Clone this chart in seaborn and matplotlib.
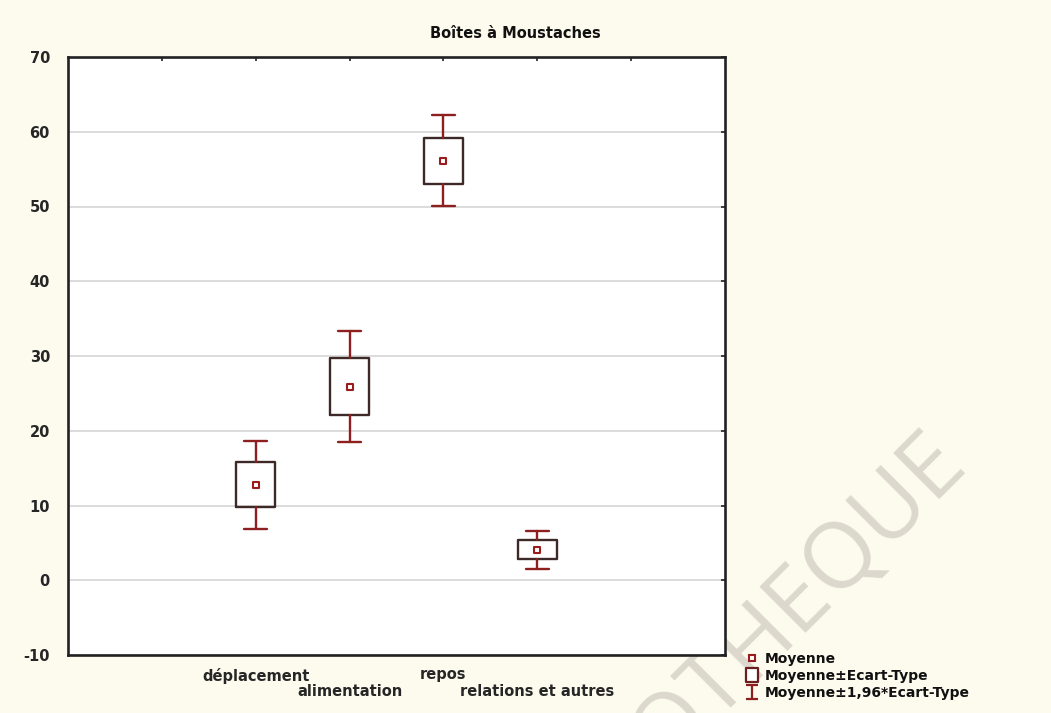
import numpy as np
import pandas as pd
import seaborn as sns
import matplotlib.pyplot as plt
from matplotlib.lines import Line2D
from matplotlib.path import Path

# Activity categories with mean and standard deviation of time spent
categories = ["déplacement", "alimentation", "repos", "relations et autres"]
means = [12.8, 25.9, 56.1, 4.1]
std_devs = [3.0, 3.8, 3.1, 1.3]
y_ticks = [-10, 0, 10, 20, 30, 40, 50, 60, 70]
legend_labels = ["Moyenne", "Moyenne±Ecart-Type", "Moyenne±1,96*Ecart-Type"]

sns.set_theme(style="white")
plt.rcParams["font.family"] = ["DejaVu Sans"]

BG = "#fdfaee"
BOX_EDGE = "#3d2a28"
WHISKER = "#8e1f1f"
MEAN_RED = "#9a1c1c"

fig = plt.figure(figsize=(10.51, 7.13), dpi=100, facecolor=BG)
ax = fig.add_axes([68 / 1051, 58 / 713, 657 / 1051, 598 / 713])
ax.set_facecolor("white")

df = pd.DataFrame({"categorie": categories, "moyenne": means, "ecart": std_devs})
pos = np.arange(len(categories))

# Box = mean ± SD, whiskers = mean ± 1.96 SD
stats = []
for cat, m, s in zip(df["categorie"], df["moyenne"], df["ecart"]):
    stats.append(dict(label=cat, med=m, q1=m - s, q3=m + s,
                      whislo=m - 1.96 * s, whishi=m + 1.96 * s, fliers=[]))

ax.bxp(stats, positions=pos, widths=0.42, capwidths=0.24,
       showfliers=False, manage_ticks=False,
       boxprops=dict(color=BOX_EDGE, lw=1.7),
       whiskerprops=dict(color=WHISKER, lw=1.7),
       capprops=dict(color=WHISKER, lw=1.7),
       medianprops=dict(visible=False))

# Mean markers
sns.scatterplot(data=df, x=pos, y="moyenne", marker="s", s=24,
                color="white", edgecolor=MEAN_RED, linewidth=1.5, zorder=5,
                legend=False, ax=ax)

ax.set_xlim(-2, 5)
ax.set_ylim(-10, 70)
ax.set_yticks(y_ticks)
ax.set_yticklabels([str(t) for t in y_ticks], fontweight="bold", fontsize=10.5)

# Staggered category labels: first row on major ticks, second row on minor ticks
row1 = [p for p in pos if p % 2 == 0]
row2 = [p for p in pos if p % 2 == 1]
ax.set_xticks(row1)
ax.set_xticklabels([categories[p] for p in row1], fontweight="bold", fontsize=10.5)
minor_pos = [-1] + row2 + [4]
ax.set_xticks(minor_pos, minor=True)
ax.set_xticklabels([""] + [categories[p] for p in row2] + [""], minor=True,
                   fontweight="bold", fontsize=10.5)
ax.set_xlabel("")
ax.set_ylabel("")
ax.tick_params(axis="both", which="both", direction="in", length=3, width=1.2,
               color="#222222", top=True, right=True)
ax.tick_params(axis="y", pad=13)
ax.tick_params(axis="x", which="major", pad=9)
ax.tick_params(axis="x", which="minor", pad=21)
ax.yaxis.grid(True, color="#d2d2d2", lw=1.1)
ax.set_axisbelow(True)
for sp in ax.spines.values():
    sp.set_color("#222222")
    sp.set_linewidth(1.9)

fig.text(0.49, 1 - 33 / 713, "Boîtes à Moustaches", ha="center", va="center",
         fontsize=10.5, fontweight="bold", color="#111111")

# Watermark behind the plot area
fig.text(967 / 1051, 1 - 462 / 713, "BIBLIOTHEQUE", rotation=45, rotation_mode="anchor",
         ha="right", va="baseline", fontsize=66, color="#dcd8cd", zorder=-1,
         family="Open Sans", fontweight="normal")

box_marker = Path([(-0.4, -0.5), (0.4, -0.5), (0.4, 0.5), (-0.4, 0.5), (-0.4, -0.5)],
                  [Path.MOVETO, Path.LINETO, Path.LINETO, Path.LINETO, Path.CLOSEPOLY])
i_marker = Path([(-0.4, 0.5), (0.4, 0.5), (0, 0.5), (0, -0.5), (-0.4, -0.5), (0.4, -0.5)],
                [Path.MOVETO, Path.LINETO, Path.MOVETO, Path.LINETO, Path.MOVETO, Path.LINETO])
handles = [
    Line2D([], [], ls="none", marker="s", ms=5, mfc="white", mec=MEAN_RED, mew=1.5),
    Line2D([], [], ls="none", marker=box_marker, ms=10.5, mfc="white", mec="#6a1f1f", mew=1.6),
    Line2D([], [], ls="none", marker=i_marker, ms=10.5, mfc="none", mec=WHISKER, mew=1.6),
]
leg = fig.legend(handles, legend_labels, loc="upper left",
                 bbox_to_anchor=(745 / 1051, 1 - 652 / 713), frameon=False,
                 borderaxespad=0, borderpad=0, handlelength=1.0, handletextpad=0.4,
                 labelspacing=0.2, prop=dict(size=10, weight="bold"))
for t in leg.get_texts():
    t.set_color("#111111")

fig.savefig("out.png", dpi=100, facecolor=BG)
